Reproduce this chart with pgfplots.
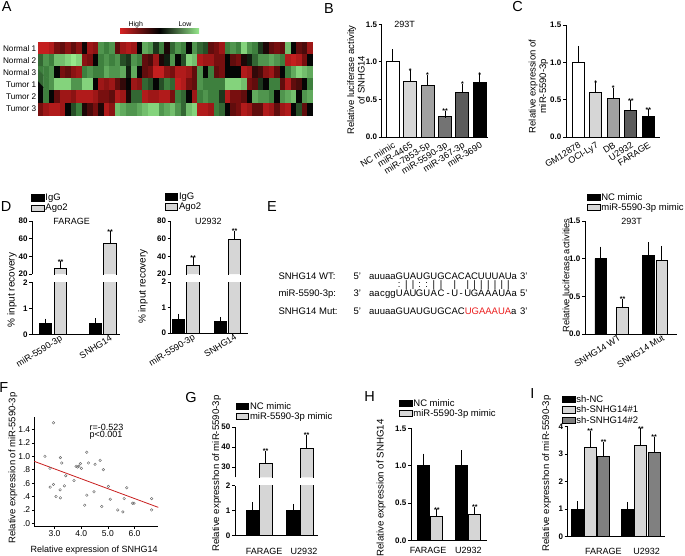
\documentclass[border=0pt]{standalone}
\usepackage{fontspec}
\setmainfont{Liberation Sans}
\usepackage{pgfplots}
\pgfplotsset{compat=1.18}
\definecolor{lg}{gray}{0.84}
\definecolor{mg}{gray}{0.63}
\definecolor{dg}{gray}{0.45}
\definecolor{vdg}{gray}{0.36}
\definecolor{ig}{gray}{0.5}
\definecolor{hmred}{RGB}{215,35,35}
\definecolor{hmgreen}{RGB}{150,232,140}
\definecolor{seqred}{RGB}{235,30,30}
\definecolor{fitred}{RGB}{200,30,30}
\newcommand{\fs}[1]{\fontsize{#1}{#1}\selectfont}
\newcommand\bd[2]{\ooalign{\hphantom{#1}\cr\hidewidth#2\hidewidth\cr}}
\pgfplotsset{
  /pgf/number format/assume math mode=true,
  prism/.style={
    scale only axis, anchor=south west, clip mode=individual,
    axis lines*=left,
    axis line style={line width=0.9pt, black},
    tick align=outside, major tick length=3pt,
    major tick style={line width=0.9pt, black},
    xtick style={draw=none},
    yticklabel style={font=\fontsize{8}{9}\selectfont\bfseries, inner sep=1.5pt},
    xticklabel style={font=\fontsize{9}{10}\selectfont, inner sep=1pt},
  },
  rotlab/.style={xticklabel style={rotate=32, anchor=north east}},
  onedec/.style={yticklabel style={/pgf/number format/.cd, fixed, fixed zerofill, precision=1}},
  bar/.style={ybar, bar shift=0pt, draw=black, line width=0.9pt,
    error bars/y dir=plus, error bars/y explicit,
    error bars/error bar style={line width=0.9pt, black},
    error bars/error mark options={line width=0.9pt, black, mark size=3.8pt}},
  outl/.style={black, line width=0.9pt, forget plot},
  boxleg/.style={legend image code/.code={\draw[##1, line width=0.8pt, draw=black] (0pt,-2.8pt) rectangle (12.5pt,3.4pt);}},
  legsty/.style={legend cell align=left, legend style={draw=none, fill=none, inner sep=0pt, row sep=0pt, nodes={inner sep=1pt, font=\fontsize{9.5}{10}\selectfont}}},
}
\tikzset{star/.style={anchor=south, inner sep=0.4pt, font=\fontsize{7}{7}\selectfont\bfseries}}
\begin{document}
\begin{tikzpicture}[x=1pt,y=1pt]
\path[use as bounding box] (0,0) rectangle (685,-555);

% ---------- panel letters
\begin{scope}[every node/.style={font=\fontsize{14.5}{15}\selectfont}]
\node at (6.7,-7) {A};
\node at (329,-8.7) {B};
\node at (517.5,-7) {C};
\node at (6,-206.7) {D};
\node at (272,-206.7) {E};
\node at (3.7,-388) {F};
\node at (191,-397.5) {G};
\node at (369.5,-396.7) {H};
\node at (532.5,-393.3) {I};
\end{scope}

% ---------- A heatmap
\shade[left color=hmred, right color=hmgreen, middle color=black] (120,-28.3) rectangle (199,-33.3);
\node[font=\fs{7}] at (135.7,-24.3) {High};
\node[font=\fs{7}] at (185,-24.3) {Low};
\begin{axis}[scale only axis, anchor=south west, at={(38pt,-115pt)}, width=275pt, height=73pt,
  xmin=-0.5, xmax=49.5, ymin=-0.5, ymax=5.5, axis line style={draw=none}, xtick=\empty,
  ytick={0,1,2,3,4,5}, yticklabels={Tumor 3,Tumor 2,Tumor 1,Normal 3,Normal 2,Normal 1},
  ytick style={draw=none}, yticklabel style={font=\fontsize{8.2}{9}\selectfont, inner sep=1.5pt},
  colormap={rg}{rgb255=(150,232,140) rgb255=(62,128,62) rgb255=(5,5,5) rgb255=(120,15,15) rgb255=(215,35,35)},
  point meta min=-1, point meta max=1]
\addplot[matrix plot*, mesh/cols=50, point meta=explicit]
 table[x expr={mod(\coordindex,50)}, y expr={5-floor(\coordindex/50)}, meta index=0, header=false, row sep=\\] {
0.9\\0.9\\0.8\\0.5\\0.4\\0.6\\0.4\\0.6\\0.05\\0.7\\0.6\\-0.6\\-0.5\\-0.6\\0.4\\0.7\\0.8\\0.7\\0\\-0.7\\-0.6\\-0.2\\-0.5\\0.1\\-0.4\\
-0.6\\-0.5\\0\\-0.6\\-0.4\\-0.3\\0.4\\0.5\\0.7\\-0.5\\-0.6\\-0.5\\-0.9\\-0.6\\-0.5\\-0.2\\0.1\\0.4\\0.5\\0.4\\-0.8\\0\\0.4\\0.3\\0.7\\
-0.4\\-0.6\\-0.5\\-0.8\\-0.8\\-0.9\\-1\\-0.9\\0.6\\0.5\\0\\-0.5\\-0.6\\-0.5\\-0.6\\-0.3\\-0.2\\-0.6\\-0.5\\0.4\\0.3\\0.7\\0.1\\-0.1\\-0.6\\
0\\-0.3\\-0.9\\-0.8\\0.8\\0.7\\0.7\\0.5\\0.5\\0\\0.4\\0.5\\0.1\\-0.1\\-0.4\\-0.6\\-0.6\\-0.7\\-0.6\\-0.5\\0.8\\0.9\\0.8\\0.5\\0\\
-0.5\\-0.5\\-0.6\\0\\0.5\\0.4\\0.6\\0.7\\-0.5\\-0.6\\-0.5\\-0.5\\-0.7\\-0.6\\-0.6\\-0.7\\-0.1\\-0.7\\0\\0.4\\0.5\\0.9\\0.9\\0.6\\0.5\\
0.8\\0.8\\0.7\\0.4\\-0.6\\0\\-0.5\\0.4\\0.5\\0\\0\\0\\0.8\\0.7\\0.2\\0.3\\0.6\\0.7\\0.4\\0\\-0.5\\-0.7\\-0.9\\-0.8\\-0.7\\
-0.4\\-0.5\\-0.6\\-0.9\\-0.9\\-0.9\\-0.6\\-0.6\\-0.9\\-0.9\\0\\0.7\\0.6\\0.7\\0.4\\0.2\\0\\0.7\\0.6\\-0.4\\-0.3\\0\\-0.3\\-0.5\\-0.4\\
0.9\\0.8\\0.5\\0.4\\-0.6\\-0.5\\-0.5\\-0.5\\-0.5\\-0.9\\-0.9\\-0.9\\-0.8\\0.5\\0.4\\-0.2\\0\\-0.5\\-0.5\\0.4\\0.8\\0.4\\0.3\\0\\-0.5\\
0\\-0.5\\0\\0.4\\0.7\\0.7\\0.6\\0.8\\0.8\\0.8\\0.7\\0.5\\0.5\\0.4\\0.8\\0.7\\0.1\\-0.4\\-0.4\\0.8\\0.7\\0.7\\0.8\\0.8\\0.5\\
-0.5\\-0.4\\0\\0.7\\-0.5\\-0.6\\-0.5\\-0.5\\-0.2\\0.8\\0.5\\0.5\\0.4\\0\\-0.7\\-0.6\\-0.6\\-0.5\\0\\-0.6\\-0.7\\-0.8\\0\\-0.6\\-0.7\\
0.5\\0.7\\0.8\\0.8\\0.7\\0\\-0.3\\-0.5\\0.1\\0.3\\0.5\\0.1\\0.8\\0.6\\-0.8\\-0.7\\-0.6\\-0.6\\-0.7\\-0.8\\-0.9\\-0.9\\-0.6\\-0.7\\-0.8\\
-0.6\\-0.4\\-0.8\\-0.9\\0.8\\0.8\\0.7\\-0.5\\-0.4\\0\\0.4\\0.5\\0.8\\0.7\\0.4\\0.4\\0.8\\0.7\\0.4\\0.7\\0.8\\0\\-0.3\\0.4\\0\\
};
\end{axis}

% ---------- B
\node[rotate=90, align=center, font=\fontsize{9.5}{10.5}\selectfont] at (356,-80) {Relative luciferase activity\\of SNHG14};
\begin{axis}[prism, rotlab, onedec, at={(381.7pt,-137pt)}, width=106.3pt, height=112.7pt,
  xmin=0, xmax=106.3, ymin=0, ymax=1.5, ytick={0,0.5,1,1.5},
  xtick={11.1,28.5,45.9,63.3,80.7,98.1},
  xticklabels={NC mimic,miR-4465,miR-7853-5p,miR-5590-3p,miR-367-3p,miR-3690}]
\addplot[bar, bar width=13pt, fill=white] coordinates {(11.1,1.00) +- (0,0.115)};
\addplot[bar, bar width=13pt, fill=lg] coordinates {(28.5,0.74) +- (0,0.10)};
\addplot[bar, bar width=13pt, fill=mg] coordinates {(45.9,0.69) +- (0,0.09)};
\addplot[bar, bar width=13pt, fill=dg] coordinates {(63.3,0.27) +- (0,0.03)};
\addplot[bar, bar width=13pt, fill=vdg] coordinates {(80.7,0.59) +- (0,0.07)};
\addplot[bar, bar width=13pt, fill=black] coordinates {(98.1,0.72) +- (0,0.07)};
\node[star] at (axis cs:28.5,0.84) {*};
\node[star] at (axis cs:45.9,0.78) {*};
\node[star] at (axis cs:63.3,0.30) {**};
\node[star] at (axis cs:80.7,0.66) {*};
\node[star] at (axis cs:98.1,0.79) {*};
\node[font=\fs{9}] at (axis cs:23,1.5) {293T};
\end{axis}

% ---------- C
\node[rotate=90, align=center, font=\fontsize{9.5}{10.5}\selectfont] at (538.5,-86.5) {Relative expression of\\miR-5590-3p};
\begin{axis}[prism, rotlab, onedec, at={(566pt,-137pt)}, width=94pt, height=112pt,
  xmin=0, xmax=94, ymin=0, ymax=1.5, ytick={0,0.5,1,1.5},
  xtick={12.3,29.8,47.3,64.8,82.3},
  xticklabels={GM12878,OCI-Ly7,DB,U2932,FARAGE}]
\addplot[bar, bar width=12pt, fill=white] coordinates {(12.3,1.00) +- (0,0.17)};
\addplot[bar, bar width=12pt, fill=lg] coordinates {(29.8,0.60) +- (0,0.08)};
\addplot[bar, bar width=12pt, fill=mg] coordinates {(47.3,0.51) +- (0,0.10)};
\addplot[bar, bar width=12pt, fill=vdg] coordinates {(64.8,0.36) +- (0,0.08)};
\addplot[bar, bar width=12pt, fill=black] coordinates {(82.3,0.28) +- (0,0.04)};
\node[star] at (axis cs:29.8,0.68) {*};
\node[star] at (axis cs:47.3,0.61) {*};
\node[star] at (axis cs:64.8,0.44) {**};
\node[star] at (axis cs:82.3,0.32) {**};
\end{axis}

% ---------- D left
\node[rotate=90, font=\fs{10}] at (12,-290) {\% input recovery};
\begin{axis}[prism, rotlab, at={(32.3pt,-334.3pt)}, width=88pt, height=52pt,
  xmin=0, xmax=88, ymin=0, ymax=2, ytick={0,1,2},
  xtick={20.7,70.5}, xticklabels={miR-5590-3p,SNHG14}, xticklabel style={xshift=8pt}]
\addplot[bar, bar width=12.4pt, fill=black] coordinates {(13.2,0.43) +- (0,0.03) (63.2,0.43) +- (0,0.04)};
\addplot[bar, bar width=12.4pt, fill=lg] coordinates {(28.2,26) (77.7,55)};
\end{axis}
\begin{axis}[prism, at={(32.3pt,-274pt)}, width=88pt, height=53pt,
  xmin=0, xmax=88, ymin=20, ymax=80, ytick={20,40,60,80}, axis x line=none, xtick=\empty,
  legsty, legend style={at={(-0.015,1.53)}, anchor=north west}]
\addlegendimage{boxleg, fill=black}
\addlegendentry{IgG}
\addplot[bar, boxleg, bar width=12.4pt, fill=lg, draw=none] coordinates {(28.2,26) +- (0,4.3) (77.7,55) +- (0,9)};
\addlegendentry{Ago2}
\addplot[outl] coordinates {(22.0,10) (22.0,26) (34.4,26) (34.4,10)};
\addplot[outl] coordinates {(71.5,10) (71.5,55) (83.9,55) (83.9,10)};
\node[star] at (axis cs:28.2,30.5) {**};
\node[star] at (axis cs:77.7,64.5) {**};
\node[font=\fs{9}] at (axis cs:39.4,80) {FARAGE};
\end{axis}

% ---------- D right
\node[rotate=90, font=\fs{10}] at (143,-286.7) {\% input recovery};
\begin{axis}[prism, rotlab, at={(170.7pt,-333pt)}, width=77pt, height=51pt,
  xmin=0, xmax=77, ymin=0, ymax=2, ytick={0,1,2},
  xtick={15,56.8}, xticklabels={miR-5590-3p,SNHG14}, xticklabel style={xshift=8pt}]
\addplot[bar, bar width=12.5pt, fill=black] coordinates {(7.6,0.52) +- (0,0.08) (49.8,0.44) +- (0,0.04)};
\addplot[bar, bar width=12.5pt, fill=lg] coordinates {(22.3,30) (63.8,59)};
\end{axis}
\begin{axis}[prism, at={(170.7pt,-274pt)}, width=77pt, height=53pt,
  xmin=0, xmax=77, ymin=20, ymax=80, ytick={20,40,60,80}, axis x line=none, xtick=\empty,
  legsty, legend style={at={(-0.08,1.55)}, anchor=north west}]
\addlegendimage{boxleg, fill=black}
\addlegendentry{IgG}
\addplot[bar, boxleg, bar width=12.5pt, fill=lg, draw=none] coordinates {(22.3,30) +- (0,4.5) (63.8,59) +- (0,5.5)};
\addlegendentry{Ago2}
\addplot[outl] coordinates {(16.05,10) (16.05,30) (28.55,30) (28.55,10)};
\addplot[outl] coordinates {(57.55,10) (57.55,59) (70.05,59) (70.05,10)};
\node[star] at (axis cs:22.3,34.7) {**};
\node[star] at (axis cs:63.8,64.7) {**};
\node[font=\fs{9}] at (axis cs:37.6,80) {U2932};
\end{axis}

% ---------- E sequences
\begin{scope}[every node/.style={font=\fs{9.5}, anchor=base west, inner sep=0pt}]
\node at (278.3,-279.1) {SNHG14 WT:};
\node at (278.3,-296.7) {miR-5590-3p:};
\node at (278.3,-314.1) {SNHG14 Mut:};
\node at (353.3,-279.1) {5'};
\node at (353.3,-296.7) {3'};
\node at (353.3,-314.1) {5'};
\node at (520,-279.1) {3'};
\node at (520,-296.7) {5'};
\node at (520,-314.1) {3'};
\node at (369,-279.1) {auuaaGUAUGUGCACACUUUAUa};
\node at (369,-287.0) {\hphantom{auuaa}\bd{G}{:}\bd{U}{|}\bd{A}{|}\bd{U}{:}\bd{G}{:}\bd{U}{|}\bd{G}{|}\bd{C}{}\bd{A}{|}\bd{C}{}\bd{A}{|}\bd{C}{|}\bd{U}{|}\bd{U}{|}\bd{U}{|}\bd{A}{|}\bd{U}{|}};
\node at (369,-296.7) {\bd{a}{a}\bd{u}{a}\bd{u}{c}\bd{a}{g}\bd{a}{g}\bd{G}{U}\bd{U}{A}\bd{A}{U}\bd{U}{G}\bd{G}{U}\bd{U}{A}\bd{G}{C}\bd{C}{-}\bd{A}{U}\bd{C}{-}\bd{A}{U}\bd{C}{G}\bd{U}{A}\bd{U}{A}\bd{U}{A}\bd{A}{U}\bd{U}{A}\bd{a}{a}};
\node at (369,-314.1) {auuaaGUAUGUGCAC\textcolor{seqred}{UGAAAUA}a};
\end{scope}

% ---------- E bars
\node[rotate=90, font=\fs{9.3}] at (566,-275.5) {Relative luciferase activities};
\begin{axis}[prism, rotlab, onedec, at={(585pt,-334pt)}, width=92pt, height=113pt,
  xmin=0, xmax=92, ymin=0, ymax=1.5, ytick={0,0.5,1,1.5},
  xtick={26.6,70.2}, xticklabels={SNHG14 WT,SNHG14 Mut}, xticklabel style={xshift=8pt},
  legsty, legend style={at={(0.02,1.257)}, anchor=north west}]
\addplot[bar, boxleg, bar width=11.5pt, fill=black] coordinates {(15.7,1.00) +- (0,0.11) (63.5,1.04) +- (0,0.13)};
\addlegendentry{NC mimic}
\addplot[bar, boxleg, bar width=11.5pt, fill=lg] coordinates {(37.5,0.35) +- (0,0.07) (76.8,0.98) +- (0,0.14)};
\addlegendentry{miR-5590-3p mimic}
\node[star] at (axis cs:37.5,0.43) {**};
\node[font=\fs{9}] at (axis cs:46.7,1.5) {293T};
\end{axis}

% ---------- F scatter
\node[rotate=90, font=\fs{9.5}] at (13,-468) {Relative expression of miR-5590-3p};
\node[font=\fs{9}] at (94.2,-550) {Relative expression of SNHG14};
\begin{axis}[scale only axis, anchor=south west, at={(34.3pt,-526pt)}, width=124pt, height=109.3pt,
  xmin=2.243, xmax=6.89, ymin=-0.04, ymax=1.59, axis lines*=left,
  axis line style={line width=0.6pt, black}, tick align=outside, major tick length=2.5pt,
  major tick style={line width=0.6pt, black},
  xtick={3,4,5,6}, xticklabels={3.0,4.0,5.0,6.0},
  ytick={0,0.2,0.4,0.6,0.8,1.0,1.2,1.4}, yticklabels={.0,.2,.4,.6,.8,1.0,1.2,1.4},
  ticklabel style={font=\fs{8.5}, inner sep=1.5pt}, clip=false]
\addplot[only marks, mark=o, mark size=1.3pt, mark options={line width=0.45pt, draw=gray!85!black}] coordinates {
(2.96,1.50) (2.64,1.00) (2.83,0.82) (3.22,0.98) (3.27,0.90) (3.42,0.71) (2.84,0.54) (2.96,0.58)
(3.21,0.50) (3.37,0.56) (3.06,0.40) (3.22,0.38) (3.73,0.64) (3.81,0.85) (3.86,0.84) (3.91,0.85)
(3.97,0.89) (4.01,0.82) (4.21,1.06) (4.27,0.90) (4.52,0.88) (4.71,0.94) (4.83,0.80) (4.21,0.42)
(4.13,0.27) (4.48,0.47) (4.77,0.25) (5.02,0.55) (5.09,0.36) (5.37,0.20) (5.56,0.17) (5.61,0.37)
(5.71,0.53) (5.98,0.30) (5.92,0.30) (6.64,0.37) (6.64,0.20)};
\addplot[fitred, line width=0.8pt] coordinates {(2.243,0.924) (6.89,0.238)};
\end{axis}
\node[font=\fs{9}, anchor=west] at (86,-427.3) {r=-0.523};
\node[font=\fs{9}, anchor=west] at (86,-435.5) {p<0.001};

% ---------- G
\node[rotate=90, font=\fs{9.6}] at (216.7,-473.5) {Relative expresshon of miR-5590-3p};
\begin{axis}[prism, at={(235pt,-535.7pt)}, width=83pt, height=50pt,
  xmin=0, xmax=83, ymin=0, ymax=2, ytick={0,1,2},
  xtick={29,69}, xticklabels={FARAGE,U2932}, xticklabel style={anchor=north, yshift=-8pt}]
\addplot[bar, bar width=13pt, fill=black] coordinates {(17.5,1.00) +- (0,0.18) (58.3,1.00) +- (0,0.12)};
\addplot[bar, bar width=13pt, fill=lg] coordinates {(30.7,32) (71.7,39)};
\end{axis}
\begin{axis}[prism, at={(235pt,-477.3pt)}, width=83pt, height=50.3pt,
  xmin=0, xmax=83, ymin=25, ymax=50, ytick={30,40,50}, axis x line=none, xtick=\empty,
  legsty, legend style={at={(0.006,1.517)}, anchor=north west}]
\addlegendimage{boxleg, fill=black}
\addlegendentry{NC mimic}
\addplot[bar, boxleg, bar width=13pt, fill=lg, draw=none] coordinates {(30.7,31.8) +- (0,4.5) (71.7,39.2) +- (0,5)};
\addlegendentry{miR-5590-3p mimic}
\addplot[outl] coordinates {(24.2,15) (24.2,31.8) (37.2,31.8) (37.2,15)};
\addplot[outl] coordinates {(65.2,15) (65.2,39.2) (78.2,39.2) (78.2,15)};
\node[star] at (axis cs:30.7,36.5) {**};
\node[star] at (axis cs:71.7,44.5) {**};
\end{axis}

% ---------- H
\node[rotate=90, font=\fs{9.7}] at (381,-488) {Relative expression of SNHG14};
\begin{axis}[prism, onedec, at={(411pt,-540.3pt)}, width=75.7pt, height=112pt,
  xmin=0, xmax=75.7, ymin=0, ymax=1.5, ytick={0,0.5,1,1.5},
  xtick={17,57.3}, xticklabels={FARAGE,U2932}, xticklabel style={anchor=north, yshift=-3pt},
  legsty, legend style={at={(-0.16,1.27)}, anchor=north west}]
\addplot[bar, boxleg, bar width=12pt, fill=black] coordinates {(12.3,1.00) +- (0,0.11) (50.8,1.00) +- (0,0.155)};
\addlegendentry{NC mimic}
\addplot[bar, boxleg, bar width=12pt, fill=lg] coordinates {(25.8,0.32) +- (0,0.045) (63.8,0.35) +- (0,0.045)};
\addlegendentry{miR-5590-3p mimic}
\node[star] at (axis cs:25.8,0.37) {**};
\node[star] at (axis cs:63.8,0.40) {**};
\end{axis}

% ---------- I
\node[rotate=90, font=\fs{9.6}] at (546.7,-473.5) {Relative expresshon of miR-5590-3p};
\begin{axis}[prism, at={(567.7pt,-536.7pt)}, width=97.3pt, height=110pt,
  xmin=0, xmax=97.3, ymin=0, ymax=4, ytick={0,1,2,3,4},
  xtick={35.7,79}, xticklabels={FARAGE,U2932}, xticklabel style={anchor=north, yshift=-7pt},
  legsty, legend style={at={(-0.06,1.293)}, anchor=north west}]
\addplot[bar, boxleg, bar width=12pt, fill=black] coordinates {(9.8,1.00) +- (0,0.15) (59.8,1.00) +- (0,0.13)};
\addlegendentry{sh-NC}
\addplot[bar, boxleg, bar width=12pt, fill=lg] coordinates {(22.3,3.25) +- (0,0.47) (73.1,3.31) +- (0,0.49)};
\addlegendentry{sh-SNHG14\#1}
\addplot[bar, boxleg, bar width=12pt, fill=ig] coordinates {(35.8,2.93) +- (0,0.38) (86.5,3.07) +- (0,0.42)};
\addlegendentry{sh-SNHG14\#2}
\node[star] at (axis cs:22.3,3.73) {**};
\node[star] at (axis cs:35.8,3.32) {**};
\node[star] at (axis cs:73.1,3.81) {**};
\node[star] at (axis cs:86.5,3.50) {**};
\end{axis}
\end{tikzpicture}
\end{document}
